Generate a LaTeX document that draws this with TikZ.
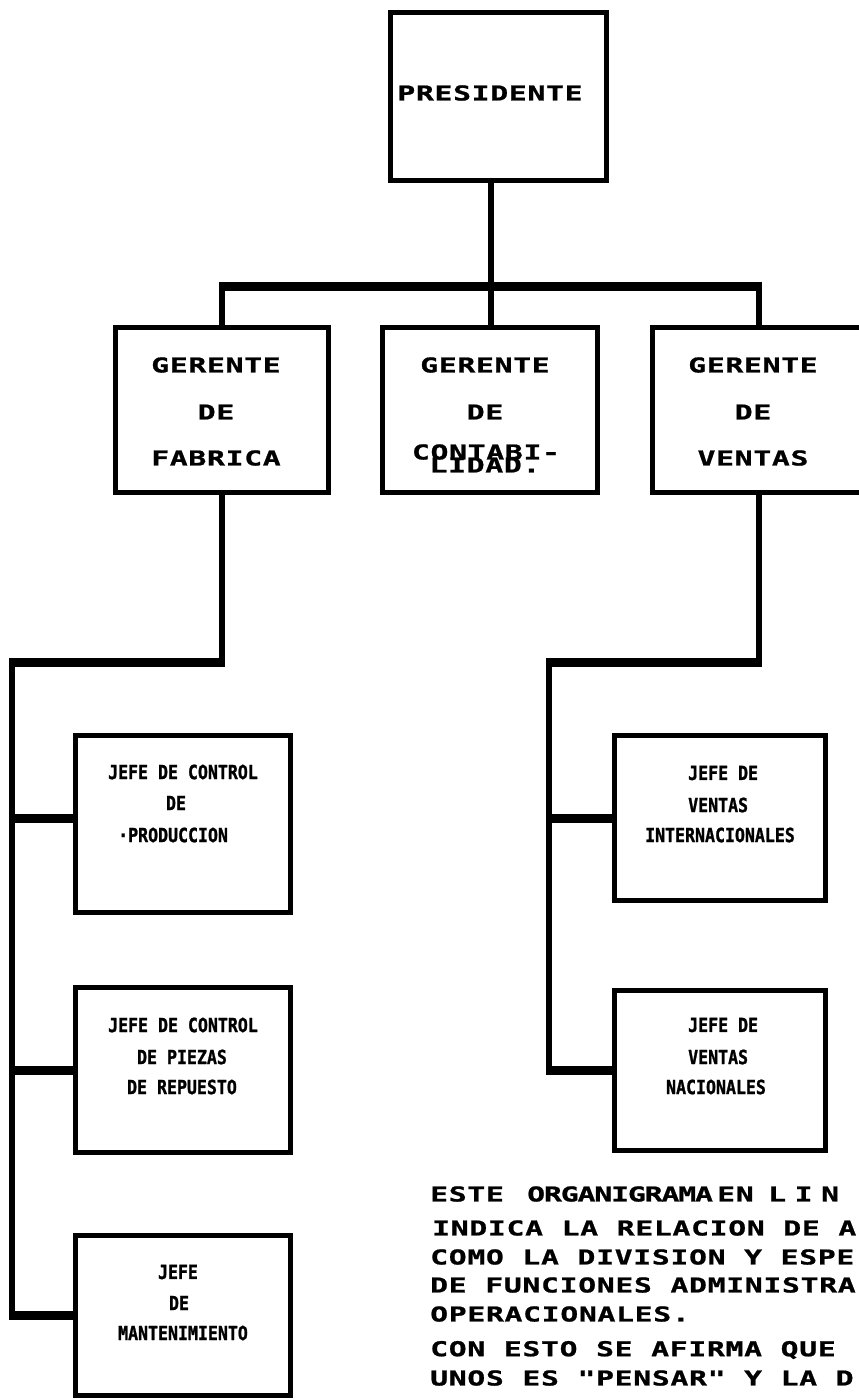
\documentclass[tikz,border=0pt]{standalone}
\usepackage{fontspec}
% wide dot-matrix style lettering and a narrow one for the lower boxes
\newfontfamily\wideface{DejaVu Sans Mono}[FakeStretch=1.45,FakeBold=1,LetterSpace=3.4]
\newfontfamily\tightface{DejaVu Sans Mono}[FakeStretch=1.45,FakeBold=1,LetterSpace=-5.4]
\newfontfamily\spreadface{DejaVu Sans Mono}[FakeStretch=1.45,FakeBold=1,LetterSpace=42]
\newfontfamily\narrowface{DejaVu Sans Mono}[FakeStretch=0.85,FakeBold=1.2]
\newcommand\bigtype{\wideface\bfseries\fontsize{20.5}{20.5}\selectfont}
\newcommand\tighttype{\tightface\bfseries\fontsize{20.5}{20.5}\selectfont}
\newcommand\spreadtype{\spreadface\bfseries\fontsize{20.5}{20.5}\selectfont}
\newcommand\smalltype{\narrowface\bfseries\fontsize{19.5}{19.5}\selectfont}
\begin{document}
\begin{tikzpicture}[x=1pt,y=-1pt,
  orgbox/.style={draw, line width=5pt, inner sep=0pt, fill=white},
  wire/.style={line width=6pt, line join=miter},
  hbar/.style={line width=9pt, shorten <=-3pt, shorten >=-3pt},
  branch/.style={line width=9pt},
  endbranch/.style={line width=9pt, shorten <=-3pt},
  bigtxt/.style={font=\bigtype, inner sep=0pt},
  smalltxt/.style={font=\smalltype, inner sep=0pt},
  note/.style={font=\bigtype, inner sep=0pt, anchor=west}]
\useasboundingbox (0,0) rectangle (859,1400);
\clip (0,0) rectangle (859,1400);

% boxes
\node[orgbox, minimum width=216pt, minimum height=168pt] (pres) at (498.5,96.5) {};
\node[orgbox, minimum width=213pt, minimum height=165pt] (fab)  at (222,410) {};
\node[orgbox, minimum width=215pt, minimum height=165pt] (cont) at (490,410) {};
\node[orgbox, minimum width=213pt, minimum height=165pt] (ven)  at (759,410) {};
\node[orgbox, minimum width=215pt, minimum height=177pt] (prod) at (183,824) {};
\node[orgbox, minimum width=215pt, minimum height=165pt] (piez) at (183,1070) {};
\node[orgbox, minimum width=215pt, minimum height=160pt] (mant) at (183,1315.5) {};
\node[orgbox, minimum width=211pt, minimum height=165pt] (intl) at (720,818) {};
\node[orgbox, minimum width=211pt, minimum height=160pt] (nac)  at (720,1070) {};

% junction points of the lines
\coordinate (busL) at (222,286);
\coordinate (busC) at (491,286);
\coordinate (busR) at (759,286);
\coordinate (fabTurn) at (222,662);
\coordinate (leftTop) at (12,662);
\coordinate (venTurn) at (759,662);
\coordinate (rightTop) at (549,662);
\coordinate (prodIn) at ([yshift=6pt]prod.west);

% top level
\draw[wire] (pres.south -| busC) -- (busC);
\draw[wire] (fab.north) -- (busL) -- (busR) -- (ven.north);
\draw[wire] (busC) -- (cont.north -| busC);
\draw[hbar] (busL) -- (busR);

% factory branch
\draw[wire] (fab.south) -- (fabTurn) -- (leftTop) -- (leftTop |- mant.west);
\draw[hbar] (fabTurn) -- (leftTop);
\draw[branch] (leftTop |- prodIn) -- (prodIn);
\draw[branch] (leftTop |- piez.west) -- (piez.west);
\draw[endbranch] (leftTop |- mant.west) -- (mant.west);

% sales branch
\draw[wire] (ven.south) -- (venTurn) -- (rightTop) -- (rightTop |- nac.west);
\draw[hbar] (venTurn) -- (rightTop);
\draw[branch] (rightTop |- intl.west) -- (intl.west);
\draw[endbranch] (rightTop |- nac.west) -- (nac.west);

% box texts
\node[bigtxt] (tPres) at (490,93) {PRESIDENTE};

\node[bigtxt] (tFabA) at (216,365) {GERENTE};
\node[bigtxt] (tFabB) at (216,412) {DE};
\node[bigtxt] (tFabC) at (216,458) {FABRICA};

\node[bigtxt] (tContA) at (485,365) {GERENTE};
\node[bigtxt] (tContB) at (485,412) {DE};
\node[bigtxt] (tContC) at (486,452) {CONTABI-};
\node[bigtxt] (tContD) at (485,465) {LIDAD.};

\node[bigtxt] (tVenA) at (753,365) {GERENTE};
\node[bigtxt] (tVenB) at (753,412) {DE};
\node[bigtxt] (tVenC) at (753,458) {VENTAS};

\node[smalltxt] (tProdA) at (183,772) {JEFE DE CONTROL};
\node[smalltxt] (tProdB) at (176,803) {DE};
\node[smalltxt, anchor=west] (tProdC) at (118,835) {·PRODUCCION};

\node[smalltxt] (tPiezA) at (183,1025) {JEFE DE CONTROL};
\node[smalltxt] (tPiezB) at (182,1057) {DE PIEZAS};
\node[smalltxt] (tPiezC) at (182,1087) {DE REPUESTO};

\node[smalltxt] (tMantA) at (178,1272) {JEFE};
\node[smalltxt] (tMantB) at (179,1303) {DE};
\node[smalltxt] (tMantC) at (183,1333) {MANTENIMIENTO};

\node[smalltxt, anchor=west] (tIntlA) at (688,773) {JEFE DE};
\node[smalltxt, anchor=west] (tIntlB) at (688,805) {VENTAS};
\node[smalltxt] (tIntlC) at (720,835) {INTERNACIONALES};

\node[smalltxt, anchor=west] (tNacA) at (688,1025) {JEFE DE};
\node[smalltxt, anchor=west] (tNacB) at (688,1057) {VENTAS};
\node[smalltxt] (tNacC) at (716,1087) {NACIONALES};

% explanatory note
\node[note] (n1a) at (430,1194) {ESTE};
\node[note, font=\tighttype] (n1b) at (527,1194) {ORGANIGRAMA};
\node[note] (n1c) at (717,1194) {EN};
\node[note, font=\spreadtype] (n1d) at (768,1194) {LIN};
\node[note] (n2) at (432,1228) {INDICA LA RELACION DE A};
\node[note] (n3) at (430,1257) {COMO LA DIVISION Y ESPE};
\node[note] (n4) at (430,1285) {DE FUNCIONES ADMINISTRA};
\node[note] (n5) at (430,1314) {OPERACIONALES.};
\node[note] (n6) at (430,1350) {CON ESTO SE AFIRMA QUE};
\node[note] (n7) at (430,1378) {UNOS ES "PENSAR" Y LA D};
\end{tikzpicture}
\end{document}
